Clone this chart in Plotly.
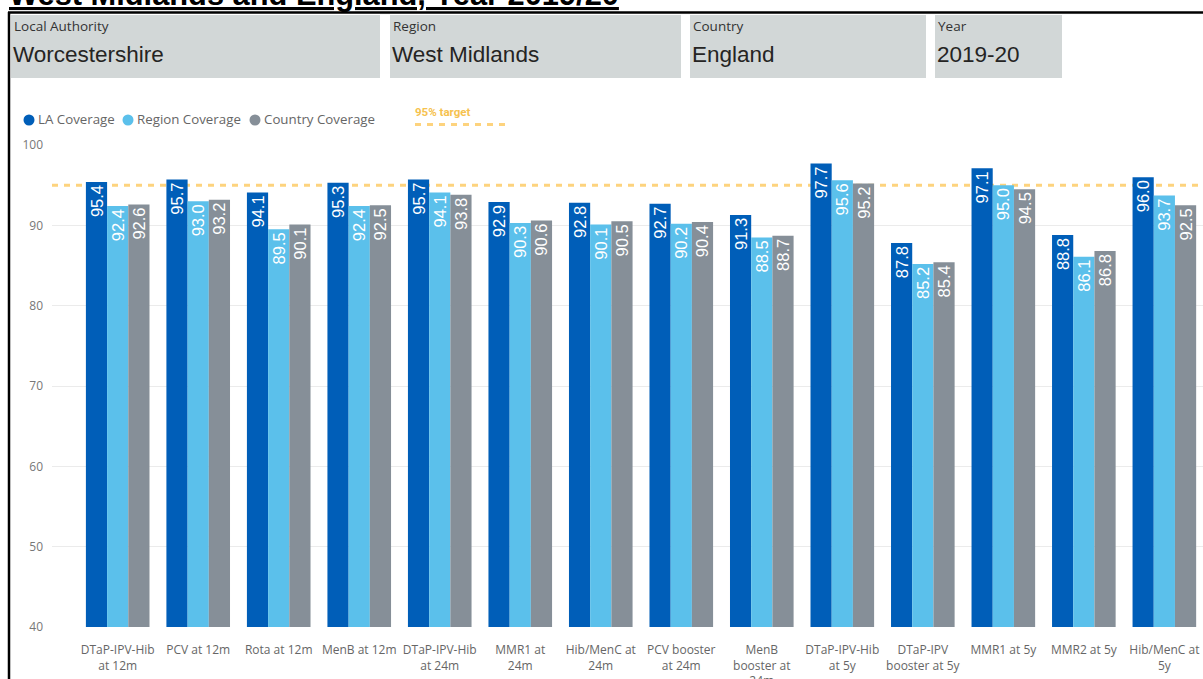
import plotly.graph_objects as go

# ---------------- data ----------------
categories = [
    "DTaP-IPV-Hib<br>at 12m", "PCV at 12m", "Rota at 12m", "MenB at 12m",
    "DTaP-IPV-Hib<br>at 24m", "MMR1 at<br>24m", "Hib/MenC at<br>24m",
    "PCV booster<br>at 24m", "MenB<br>booster at<br>24m", "DTaP-IPV-Hib<br>at 5y",
    "DTaP-IPV<br>booster at 5y", "MMR1 at 5y", "MMR2 at 5y", "Hib/MenC at<br>5y",
]
la_values = [95.4, 95.7, 94.1, 95.3, 95.7, 92.9, 92.8, 92.7, 91.3, 97.7, 87.8, 97.1, 88.8, 96.0]
region_values = [92.4, 93.0, 89.5, 92.4, 94.1, 90.3, 90.1, 90.2, 88.5, 95.6, 85.2, 95.0, 86.1, 93.7]
country_values = [92.6, 93.2, 90.1, 92.5, 93.8, 90.6, 90.5, 90.4, 88.7, 95.2, 85.4, 94.5, 86.8, 92.5]
series_names = ["LA Coverage", "Region Coverage", "Country Coverage"]
y_tick_values = [40, 50, 60, 70, 80, 90, 100]
target_value = 95
target_label = "95% target"
card_titles = ["Local Authority", "Region", "Country", "Year"]
card_values = ["Worcestershire", "West Midlands", "England", "2019-20"]
title_text = "West Midlands and England, Year 2019/20"

# ---------------- layout helpers ----------------
FIG_W, FIG_H = 1203, 679
L, R, T, B = 52, 0, 145, 52
PW = FIG_W - L - R
PH = FIG_H - T - B


def xp(px):
    return (px - L) / PW


def yp(py):
    return (FIG_H - B - py) / PH


colors = ["#005EB8", "#5BC0EB", "#868F98"]
target_color = "#FDD37E"

fig = go.Figure()
for name, vals, col in zip(series_names, [la_values, region_values, country_values], colors):
    fig.add_trace(go.Bar(
        x=categories, y=vals, name=name,
        marker=dict(color=col, line=dict(width=0)),
        texttemplate="%{y:.1f}", textposition="inside", insidetextanchor="end",
        textangle=-90,
        insidetextfont=dict(family="Arial", size=16.5, color="white"),
        showlegend=False,
    ))

shapes = []
annotations = []

# frame lines
shapes.append(dict(type="line", xref="paper", yref="paper", x0=xp(8), x1=xp(1203),
                   y0=yp(12.5), y1=yp(12.5), line=dict(color="black", width=2.5)))
shapes.append(dict(type="line", xref="paper", yref="paper", x0=xp(9), x1=xp(9),
                   y0=yp(12), y1=yp(679), line=dict(color="black", width=2.5)))

# title (cut off at top)
annotations.append(dict(xref="paper", yref="paper", x=xp(8), y=yp(13), xanchor="left", yanchor="bottom",
                        text="<b><u>" + title_text + "</u></b>", showarrow=False, borderpad=0,
                        font=dict(family="Arial", size=30.8, color="black")))

# cards
card_x = [(11, 380), (390, 681), (690, 926), (935, 1062)]
for (x0, x1), t, v in zip(card_x, card_titles, card_values):
    shapes.append(dict(type="rect", xref="paper", yref="paper", x0=xp(x0), x1=xp(x1),
                       y0=yp(78), y1=yp(15), fillcolor="#D2D7D7", line=dict(width=0), layer="below"))
    annotations.append(dict(xref="paper", yref="paper", x=xp(x0 + 2), y=yp(25.5), xanchor="left",
                            yanchor="middle", text=t, showarrow=False, borderpad=0,
                            font=dict(family="Open Sans", size=13.5, color="#333333")))
    annotations.append(dict(xref="paper", yref="paper", x=xp(x0 + 1), y=yp(54), xanchor="left",
                            yanchor="middle", text=v, showarrow=False, borderpad=0,
                            font=dict(family="Arial", size=22.5, color="#252423")))

# legend
legend_circles = [29, 128, 255]
legend_text_x = [37, 136, 263]
for cx, tx, name, col in zip(legend_circles, legend_text_x, series_names, colors):
    shapes.append(dict(type="circle", xref="paper", yref="paper", x0=xp(cx - 5.5), x1=xp(cx + 5.5),
                       y0=yp(120 + 5.5), y1=yp(120 - 5.5), fillcolor=col, line=dict(width=0)))
    annotations.append(dict(xref="paper", yref="paper", x=xp(tx), y=yp(119.5), xanchor="left",
                            yanchor="middle", text=name, showarrow=False, borderpad=0,
                            font=dict(family="Open Sans", size=13.3, color="#666666")))

# target legend
annotations.append(dict(xref="paper", yref="paper", x=xp(414), y=yp(111.5), xanchor="left",
                        yanchor="middle", text=target_label, showarrow=False, borderpad=0,
                        font=dict(family="Roboto", size=11.5, color="#F6C24E", weight=700)))
shapes.append(dict(type="line", xref="paper", yref="paper", x0=xp(415), x1=xp(511),
                   y0=yp(124.5), y1=yp(124.5), line=dict(color=target_color, width=3, dash="6px,6px")))

# target line
shapes.append(dict(type="line", xref="paper", yref="y", x0=0, x1=1, y0=target_value, y1=target_value,
                   line=dict(color=target_color, width=3, dash="6px,6px"), layer="between"))

fig.update_layout(
    width=FIG_W, height=FIG_H,
    margin=dict(l=L, r=R, t=T, b=B, pad=0),
    paper_bgcolor="white", plot_bgcolor="white",
    barmode="group", bargap=0.21, bargroupgap=0,
    uniformtext=dict(minsize=16.5, mode="show"),
    showlegend=False,
    shapes=shapes, annotations=annotations,
)
fig.update_xaxes(range=[-0.816, 13.48], showgrid=False, showline=False, zeroline=False, ticks="",
                 ticklabelstandoff=14, automargin=False,
                 tickfont=dict(family="Open Sans", size=12, color="#666666"))
fig.update_yaxes(range=[40, 100], tickvals=y_tick_values, showgrid=True, gridcolor="#EBEBEB", gridwidth=1,
                 zeroline=False, showline=False, ticks="", ticklabelstandoff=8, automargin=False,
                 tickfont=dict(family="Open Sans", size=12, color="#777777"))

fig.write_html("out.html", config={"displayModeBar": False},
               post_script="document.body.style.margin='0';")
